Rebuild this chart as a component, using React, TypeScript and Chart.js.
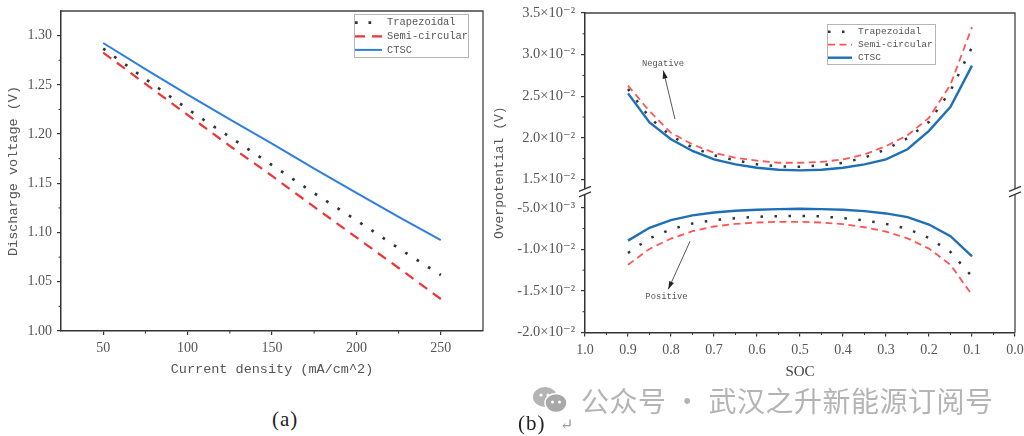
import React, { useEffect, useRef } from 'react';
import Chart from 'chart.js/auto';

// ---- (a) discharge voltage vs current density ----
const currentDensity = [50, 75, 100, 125, 150, 175, 200, 225, 250];
const trapezoidalVoltage = [1.2868, 1.256, 1.2255, 1.197, 1.1685, 1.14, 1.1125, 1.084, 1.0568];
const semiCircularVoltage = [1.2827, 1.251, 1.2195, 1.188, 1.1575, 1.126, 1.095, 1.064, 1.0325];
const ctscVoltage = [1.2925, 1.266, 1.2401, 1.215, 1.1904, 1.165, 1.1403, 1.116, 1.0923];
const densityTicks = [50, 100, 150, 200, 250];
const densityMinorTicks = [75, 125, 175, 225];
const voltageTicks = [1.0, 1.05, 1.1, 1.15, 1.2, 1.25, 1.3];
const voltageMinorTicks = [1.025, 1.075, 1.125, 1.175, 1.225, 1.275];

// ---- (b) overpotential vs SOC ----
const soc = [0.9, 0.85, 0.8, 0.75, 0.7, 0.65, 0.6, 0.55, 0.5, 0.45, 0.4, 0.35, 0.3, 0.25, 0.2, 0.15, 0.1];
// negative electrode
const trapezoidalNeg = [0.02587, 0.02244, 0.02023, 0.01882, 0.0179, 0.01729, 0.01681, 0.01657, 0.01652, 0.01669, 0.017, 0.01761, 0.01862, 0.01995, 0.02192, 0.02566, 0.03089];
const semiCircularNeg = [0.02627, 0.0232, 0.0206, 0.0192, 0.0182, 0.0176, 0.01725, 0.017, 0.017, 0.0171, 0.0174, 0.018, 0.019, 0.0203, 0.0224, 0.0264, 0.0333];
const ctscNeg = [0.02534, 0.02184, 0.01983, 0.01842, 0.01741, 0.01681, 0.0164, 0.01616, 0.01609, 0.01616, 0.0164, 0.01681, 0.01741, 0.01862, 0.02083, 0.02373, 0.02868];
// positive electrode
const trapezoidalPos = [-0.01044, -0.00868, -0.00759, -0.0069, -0.0065, -0.00626, -0.00609, -0.00601, -0.00599, -0.00605, -0.00626, -0.00654, -0.00694, -0.00754, -0.00863, -0.01032, -0.01327];
const semiCircularPos = [-0.01186, -0.00996, -0.00871, -0.00783, -0.00726, -0.00694, -0.00678, -0.0067, -0.0067, -0.00678, -0.00698, -0.00735, -0.00787, -0.00868, -0.00992, -0.01186, -0.01549];
const ctscPos = [-0.00896, -0.00742, -0.0065, -0.00593, -0.00557, -0.00536, -0.00524, -0.00517, -0.00512, -0.00517, -0.00524, -0.00541, -0.00569, -0.00613, -0.00702, -0.00843, -0.01085];
const socTicks = [0, 0.1, 0.2, 0.3, 0.4, 0.5, 0.6, 0.7, 0.8, 0.9, 1.0];
const socMinorTicks = [0.05, 0.15, 0.25, 0.35, 0.45, 0.55, 0.65, 0.75, 0.85, 0.95];
const upperTicks = [0.015, 0.02, 0.025, 0.03, 0.035];
const upperMinorTicks = [0.0175, 0.0225, 0.0275, 0.0325];
const lowerTicks = [-0.02, -0.015, -0.01, -0.005];
const lowerMinorTicks = [-0.0175, -0.0125, -0.0075];
const upperRange = [0.0135, 0.035];
const lowerRange = [-0.02, -0.0031];

// annotation arrows, in data units (soc, overpotential)
const negativeNote = { text: 'Negative', axis: 'yNeg', at: [0.8186, 0.0289], tail: [0.7907, 0.02225], head: [0.8179, 0.02808] };
const positiveNote = { text: 'Positive', axis: 'yPos', at: [0.8105, -0.01574], tail: [0.7558, -0.00904], head: [0.8063, -0.01481] };

const TEXT = '#555';
const AXIS = '#333';
const SERIF = '"Liberation Serif", "DejaVu Serif", serif';
const MONO = '"Liberation Mono", "DejaVu Sans Mono", monospace';

const SUP: Record<string, string> = { '-': '⁻', '0': '⁰', '1': '¹', '2': '²', '3': '³', '4': '⁴', '5': '⁵' };
function sciLabel(v: number) {
  const e = Math.floor(Math.log10(Math.abs(v)) + 1e-9);
  const m = v / Math.pow(10, e);
  return `${m.toFixed(1)}×10${String(e).split('').map((c) => SUP[c]).join('')}`;
}

// small ticks between the labelled ones
function minorTicks(spec: Record<string, number[]>) {
  return {
    id: 'minorTicks',
    afterDraw(chart: any) {
      const { ctx } = chart;
      ctx.save();
      ctx.strokeStyle = AXIS;
      ctx.lineWidth = 1;
      Object.keys(spec).forEach((id) => {
        const scale = chart.scales[id];
        spec[id].forEach((v) => {
          const p = scale.getPixelForValue(v);
          ctx.beginPath();
          if (scale.isHorizontal()) {
            ctx.moveTo(p, scale.top);
            ctx.lineTo(p, scale.top + 2.5);
          } else {
            ctx.moveTo(scale.right, p);
            ctx.lineTo(scale.right - 2.5, p);
          }
          ctx.stroke();
        });
      });
      ctx.restore();
    }
  };
}

// top and right edges of the box
const frame = {
  id: 'frame',
  afterDraw(chart: any) {
    const { ctx, chartArea: a } = chart;
    ctx.save();
    ctx.strokeStyle = '#444';
    ctx.lineWidth = 1.3;
    ctx.beginPath();
    ctx.moveTo(a.left, a.top);
    ctx.lineTo(a.right, a.top);
    ctx.lineTo(a.right, a.bottom);
    ctx.stroke();
    ctx.restore();
  }
};

interface LegendBox {
  right: number; top: number; width: number; height: number;
  firstRow: number; rowGap: number; sampleStart: number; sampleEnd: number; textStart: number; font: string;
}

function boxLegend(cfg: LegendBox) {
  return {
    id: 'boxLegend',
    afterDatasetsDraw(chart: any) {
      const { ctx, chartArea } = chart;
      const x0 = chartArea.right - cfg.right - cfg.width;
      const y0 = chartArea.top + cfg.top;
      ctx.save();
      ctx.fillStyle = '#fff';
      ctx.fillRect(x0, y0, cfg.width, cfg.height);
      ctx.strokeStyle = '#b5b5b5';
      ctx.lineWidth = 1;
      ctx.strokeRect(x0 + 0.5, y0 + 0.5, cfg.width, cfg.height);
      const seen = new Set<string>();
      let row = 0;
      chart.data.datasets.forEach((ds: any) => {
        if (seen.has(ds.label)) return;
        seen.add(ds.label);
        const y = y0 + cfg.firstRow + row * cfg.rowGap;
        ctx.strokeStyle = ds.borderColor;
        ctx.lineWidth = ds.borderWidth;
        ctx.setLineDash(ds.borderDash || []);
        ctx.beginPath();
        ctx.moveTo(x0 + cfg.sampleStart, y);
        ctx.lineTo(x0 + cfg.sampleEnd, y);
        ctx.stroke();
        ctx.setLineDash([]);
        ctx.fillStyle = TEXT;
        ctx.font = cfg.font;
        ctx.textBaseline = 'middle';
        ctx.textAlign = 'left';
        ctx.fillText(ds.label, x0 + cfg.textStart, y);
        row++;
      });
      ctx.restore();
    }
  };
}

const fixWidth = (w: number) => (scale: any) => {
  scale.width = w;
  scale.paddingTop = 0;
  scale.paddingBottom = 0;
};
const fixHeight = (h: number) => (scale: any) => {
  scale.height = h;
  scale.paddingLeft = 0;
  scale.paddingRight = 0;
};
const setTicks = (values: number[]) => (scale: any) => {
  scale.ticks = values.map((value) => ({ value }));
};

const axisStyle = {
  grid: { drawOnChartArea: false, drawTicks: true, tickLength: 4, color: AXIS, lineWidth: 1.2 },
  border: { display: true, color: AXIS, width: 1.5 },
};

function DischargeChart() {
  const chartRef = useRef<HTMLCanvasElement>(null);

  useEffect(() => {
    if (!chartRef.current) return;
    const xy = (ys: number[]) => currentDensity.map((x, i) => ({ x, y: ys[i] }));
    const chart = new Chart(chartRef.current, {
      type: 'line',
      data: {
        datasets: [
          { label: 'Trapezoidal', data: xy(trapezoidalVoltage), borderColor: '#333', borderWidth: 2.7, borderDash: [2.7, 10.8] },
          { label: 'Semi-circular', data: xy(semiCircularVoltage), borderColor: '#ee3535', borderWidth: 2.2, borderDash: [10, 7] },
          { label: 'CTSC', data: xy(ctscVoltage), borderColor: '#2f7fe0', borderWidth: 2 },
        ]
      },
      options: {
        animation: false,
        responsive: true,
        maintainAspectRatio: false,
        layout: { padding: { top: 11, right: 17, left: 0, bottom: 0 } },
        elements: { point: { radius: 0 }, line: { tension: 0 } },
        plugins: { legend: { display: false }, tooltip: { enabled: false } },
        scales: {
          x: {
            type: 'linear', min: 25, max: 275, ...axisStyle,
            afterBuildTicks: setTicks(densityTicks),
            afterFit: fixHeight(69),
            ticks: { color: TEXT, font: { family: SERIF, size: 14 }, padding: 5, autoSkip: false, maxRotation: 0 },
            title: { display: true, text: 'Current density (mA/cm^2)', color: TEXT, font: { family: MONO, size: 13.5 }, padding: { top: 0, bottom: 22 } },
          },
          y: {
            type: 'linear', min: 1.0, max: 1.325, ...axisStyle,
            afterBuildTicks: setTicks(voltageTicks),
            afterFit: fixWidth(61),
            ticks: { color: TEXT, font: { family: SERIF, size: 14 }, padding: 5, callback: (v: any) => Number(v).toFixed(2) },
            title: { display: true, text: 'Discharge voltage (V)', color: TEXT, font: { family: MONO, size: 13.5 }, padding: { top: 5, bottom: 0 } },
          },
        }
      },
      plugins: [
        frame,
        minorTicks({ x: densityMinorTicks, y: voltageMinorTicks }),
        boxLegend({ right: 15, top: 3, width: 114, height: 43, firstRow: 8.7, rowGap: 13.6, sampleStart: 1, sampleEnd: 28, textStart: 33, font: `10.4px ${MONO}` }),
      ]
    } as any);

    return () => chart.destroy();
  }, []);

  return <canvas ref={chartRef}></canvas>;
}

function notes(items: typeof negativeNote[]) {
  return {
    id: 'notes',
    afterDatasetsDraw(chart: any) {
      const { ctx } = chart;
      const x = chart.scales.x;
      ctx.save();
      items.forEach((n) => {
        const y = chart.scales[n.axis];
        const tx = x.getPixelForValue(n.tail[0]), ty = y.getPixelForValue(n.tail[1]);
        const hx = x.getPixelForValue(n.head[0]), hy = y.getPixelForValue(n.head[1]);
        ctx.strokeStyle = '#444';
        ctx.fillStyle = '#222';
        ctx.lineWidth = 0.9;
        ctx.beginPath();
        ctx.moveTo(tx, ty);
        ctx.lineTo(hx, hy);
        ctx.stroke();
        const ang = Math.atan2(hy - ty, hx - tx);
        ctx.beginPath();
        ctx.moveTo(hx, hy);
        ctx.lineTo(hx - 8 * Math.cos(ang) + 2.6 * Math.sin(ang), hy - 8 * Math.sin(ang) - 2.6 * Math.cos(ang));
        ctx.lineTo(hx - 8 * Math.cos(ang) - 2.6 * Math.sin(ang), hy - 8 * Math.sin(ang) + 2.6 * Math.cos(ang));
        ctx.closePath();
        ctx.fill();
        ctx.fillStyle = TEXT;
        ctx.font = `8.8px ${MONO}`;
        ctx.textAlign = 'center';
        ctx.textBaseline = 'middle';
        ctx.fillText(n.text, x.getPixelForValue(n.at[0]), y.getPixelForValue(n.at[1]));
      });
      ctx.restore();
    }
  };
}

// "//" marks where the y axis jumps from the positive to the negative electrode
const axisBreak = {
  id: 'axisBreak',
  afterDraw(chart: any) {
    const { ctx, chartArea } = chart;
    const yb = chart.scales.yNeg.bottom;
    ctx.save();
    [chartArea.left, chartArea.right].forEach((x: number) => {
      ctx.fillStyle = '#fff';
      ctx.fillRect(x - 2, yb - 3, 4, 6);
      ctx.strokeStyle = AXIS;
      ctx.lineWidth = 1.2;
      ctx.beginPath();
      ctx.moveTo(x - 6, yb - 0.5);
      ctx.lineTo(x + 6, yb - 5.5);
      ctx.moveTo(x - 6, yb + 5);
      ctx.lineTo(x + 6, yb);
      ctx.stroke();
    });
    ctx.restore();
  }
};

const overpotentialTitle = {
  id: 'overpotentialTitle',
  afterDraw(chart: any) {
    const { ctx, chartArea } = chart;
    ctx.save();
    ctx.translate(10, (chartArea.top + chartArea.bottom) / 2);
    ctx.rotate(-Math.PI / 2);
    ctx.font = `13px ${MONO}`;
    ctx.fillStyle = TEXT;
    ctx.textAlign = 'center';
    ctx.textBaseline = 'middle';
    ctx.fillText('Overpotential (V)', 0, 0);
    ctx.restore();
  }
};

function OverpotentialChart() {
  const chartRef = useRef<HTMLCanvasElement>(null);

  useEffect(() => {
    if (!chartRef.current) return;
    const xy = (ys: number[]) => soc.map((x, i) => ({ x, y: ys[i] }));
    const trap = { label: 'Trapezoidal', borderColor: '#333', borderWidth: 2.5, borderDash: [2.5, 11.5] };
    const semi = { label: 'Semi-circular', borderColor: '#ff5555', borderWidth: 1.8, borderDash: [7, 4.5] };
    const ctsc = { label: 'CTSC', borderColor: '#1f6fb6', borderWidth: 2.4 };
    const yTicks = { color: TEXT, font: { family: SERIF, size: 14.5 }, padding: 6, callback: (v: any) => sciLabel(Number(v)) };

    const chart = new Chart(chartRef.current, {
      type: 'line',
      data: {
        datasets: [
          { ...trap, data: xy(trapezoidalNeg), yAxisID: 'yNeg' },
          { ...semi, data: xy(semiCircularNeg), yAxisID: 'yNeg' },
          { ...ctsc, data: xy(ctscNeg), yAxisID: 'yNeg' },
          { ...trap, data: xy(trapezoidalPos), yAxisID: 'yPos' },
          { ...semi, data: xy(semiCircularPos), yAxisID: 'yPos' },
          { ...ctsc, data: xy(ctscPos), yAxisID: 'yPos' },
        ]
      },
      options: {
        animation: false,
        responsive: true,
        maintainAspectRatio: false,
        layout: { padding: { top: 13, right: 9, left: 0, bottom: 0 } },
        elements: { point: { radius: 0 }, line: { tension: 0 } },
        plugins: { legend: { display: false }, tooltip: { enabled: false } },
        scales: {
          x: {
            type: 'linear', min: 0, max: 1, reverse: true, ...axisStyle,
            afterBuildTicks: setTicks(socTicks),
            afterFit: fixHeight(67.5),
            ticks: { color: TEXT, font: { family: SERIF, size: 14 }, padding: 5, autoSkip: false, maxRotation: 0, callback: (v: any) => Number(v).toFixed(1) },
            title: { display: true, text: 'SOC', color: '#444', font: { family: SERIF, size: 15 }, padding: { top: 0, bottom: 19 } },
          },
          // stacked axes are laid out in order, the later one ends up on top
          yPos: {
            type: 'linear', position: 'left', stack: 'overpotential', stackWeight: lowerRange[1] - lowerRange[0],
            min: lowerRange[0], max: lowerRange[1], ...axisStyle,
            afterBuildTicks: setTicks(lowerTicks),
            afterFit: fixWidth(95),
            ticks: yTicks,
          },
          yNeg: {
            type: 'linear', position: 'left', stack: 'overpotential', stackWeight: upperRange[1] - upperRange[0],
            min: upperRange[0], max: upperRange[1], ...axisStyle,
            afterBuildTicks: setTicks(upperTicks),
            afterFit: fixWidth(95),
            ticks: yTicks,
          },
        }
      },
      plugins: [
        frame,
        axisBreak,
        overpotentialTitle,
        minorTicks({ x: socMinorTicks, yNeg: upperMinorTicks, yPos: lowerMinorTicks }),
        notes([negativeNote, positiveNote]),
        boxLegend({ right: 80, top: 11, width: 108, height: 40, firstRow: 7.7, rowGap: 13, sampleStart: 1, sampleEnd: 25, textStart: 31, font: `9.6px ${MONO}` }),
      ]
    } as any);

    return () => chart.destroy();
  }, []);

  return <canvas ref={chartRef}></canvas>;
}

function WeChatIcon() {
  return (
    <svg width="36" height="28" viewBox="0 0 36 28" style={{ position: 'absolute', left: 532, top: 386 }}>
      <ellipse cx="13" cy="11" rx="12" ry="10" fill="#b4b4b4" />
      <circle cx="9" cy="9" r="1.6" fill="#fff" />
      <circle cx="16" cy="9" r="1.6" fill="#fff" />
      <ellipse cx="24" cy="17" rx="11" ry="9.5" fill="#a8a8a8" stroke="#fff" strokeWidth="1.5" />
      <circle cx="20.5" cy="16" r="1.5" fill="#fff" />
      <circle cx="27.5" cy="16" r="1.5" fill="#fff" />
    </svg>
  );
}

export default function App() {
  return (
    <div style={{ position: 'absolute', left: 0, top: 0, width: 1024, height: 436, background: '#fff', overflow: 'hidden' }}>
      <div style={{ position: 'absolute', left: 0, top: 0, width: 500, height: 400 }}>
        <DischargeChart />
      </div>
      <div style={{ position: 'absolute', left: 490, top: 0, width: 534, height: 400 }}>
        <OverpotentialChart />
      </div>
      <div style={{ position: 'absolute', left: 272, top: 407, fontFamily: SERIF, fontSize: 21, letterSpacing: 1, color: '#222' }}>(a)</div>
      <WeChatIcon />
      <div style={{ position: 'absolute', left: 581, top: 383, fontFamily: '"Noto Sans CJK SC", sans-serif', fontSize: 28, letterSpacing: 0.5, color: '#b4b4b4', whiteSpace: 'nowrap', lineHeight: '34px' }}>
        公众号 · 武汉之升新能源订阅号
      </div>
      <div style={{ position: 'absolute', left: 518, top: 411, fontFamily: SERIF, fontSize: 21, letterSpacing: 1, color: '#222', whiteSpace: 'nowrap' }}>
        (b) <span style={{ color: '#999', fontSize: 16, marginLeft: 8 }}>↵</span>
      </div>
    </div>
  );
}
